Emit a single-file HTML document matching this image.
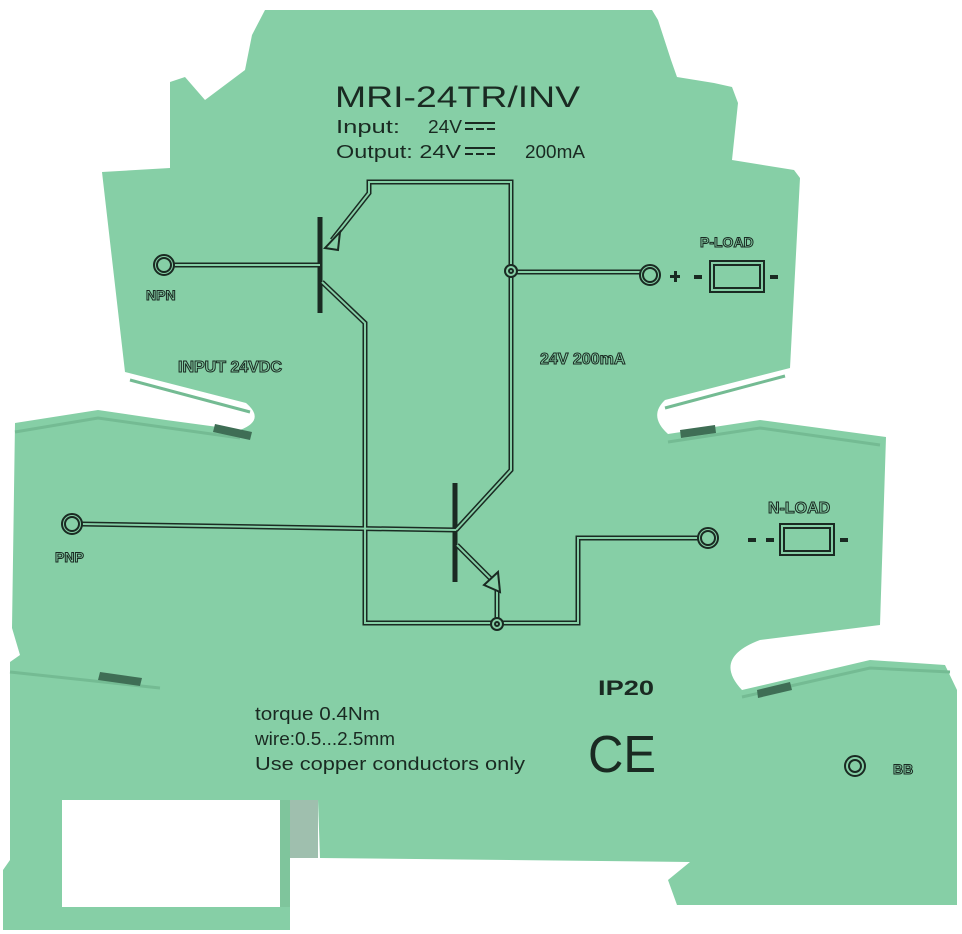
<!DOCTYPE html>
<html><head><meta charset="utf-8"><style>
html,body{margin:0;padding:0;background:#fff;}
svg{display:block}
.t{font-family:"Liberation Sans",sans-serif;fill:#1a2a22;}
.o{font-family:"Liberation Sans",sans-serif;font-weight:bold;fill:none;stroke:#1a2a22;stroke-width:1;}
</style></head><body>
<svg width="962" height="934" viewBox="0 0 962 934" xmlns="http://www.w3.org/2000/svg">
<rect width="962" height="934" fill="#fff"/>
<path d="M265,10 L652,10 L658,20 L671,60 L677,77 L714,83 L732,87 L738,103 L732,160 L794,170 L800,178 L790,368 L665,400 Q648,416 668,434 L760,420 L886,437 L880,625 L760,640 Q712,658 742,690 L870,660 L945,665 L957,690 L957,905 L677,905 L668,880 L690,862 L320,858 L318,800 L290,800 L290,930 L3,930 L3,870 L10,860 L10,662 L20,655 L12,628 L15,423 L98,410 L166,420 L240,430 Q266,420 246,403 L129,373 L125,372 L102,172 L170,168 L170,82 L185,77 L205,100 L245,70 L252,35 Z" fill="#86cfa6"/>
<rect x="62" y="800" width="218" height="107" fill="#fff"/>
<rect x="290" y="800" width="28" height="58" fill="#9fbfae"/>
<rect x="280" y="800" width="10" height="107" fill="#7fc59c"/>
<g fill="none" stroke="#74bb93" stroke-width="3">
<path d="M15,432 L98,418 L240,438"/>
<path d="M10,672 L160,688"/>
<path d="M742,697 L870,668 L950,672"/>
<path d="M668,442 L760,428 L880,445"/>
<path d="M130,380 L250,412"/>
<path d="M665,408 L785,376"/>
</g>
<path d="M215,424 L252,432 L250,440 L213,432 Z" fill="#3f6e55"/>
<path d="M100,672 L142,678 L140,686 L98,680 Z" fill="#3f6e55"/>
<path d="M680,430 L715,425 L716,433 L681,438 Z" fill="#3f6e55"/>
<path d="M757,690 L790,682 L792,690 L758,698 Z" fill="#3f6e55"/>
<g fill="none" stroke-linejoin="miter">
<g stroke="#1a2a22" stroke-width="5">
<path d="M332,240 L369,193 L369,182 L511,182 L511,470 L456,530"/>
<path d="M322,282 L365,323 L365,623 L578,623 L578,538 L700,538"/>
<path d="M457,545 L497,585 L497,623"/>
<path d="M174,265 L320,265"/>
<path d="M81,524 L456,530"/>
<path d="M511,272 L641,272"/>
<path d="M320,217 L320,313"/>
<path d="M455,483 L455,582"/>
</g>
<g stroke="#86cfa6" stroke-width="2">
<path d="M332,240 L369,193 L369,182 L511,182 L511,470 L456,530"/>
<path d="M322,282 L365,323 L365,623 L578,623 L578,538 L700,538"/>
<path d="M457,545 L497,585 L497,623"/>
<path d="M174,265 L320,265"/>
<path d="M81,524 L456,530"/>
<path d="M511,272 L641,272"/>
</g>
</g>
<path d="M325,248 L340,232 L338,250 Z" fill="#86cfa6" stroke="#1a2a22" stroke-width="2"/>
<path d="M484,585 L498,572 L500,592 Z" fill="#86cfa6" stroke="#1a2a22" stroke-width="2"/>
<g fill="#86cfa6" stroke="#1a2a22" stroke-width="2">
<circle cx="511" cy="271" r="6"/><circle cx="511" cy="271" r="2"/>
<circle cx="497" cy="624" r="6"/><circle cx="497" cy="624" r="2"/>
<circle cx="164" cy="265" r="10"/><circle cx="164" cy="265" r="7"/>
<circle cx="72" cy="524" r="10"/><circle cx="72" cy="524" r="7"/>
<circle cx="650" cy="275" r="10"/><circle cx="650" cy="275" r="7"/>
<circle cx="708" cy="538" r="10"/><circle cx="708" cy="538" r="7"/>
<circle cx="855" cy="766" r="10"/><circle cx="855" cy="766" r="6"/>
</g>
<g fill="none" stroke="#1a2a22" stroke-width="2">
<rect x="710" y="261" width="54" height="31"/><rect x="714" y="265" width="46" height="23"/>
<rect x="780" y="524" width="54" height="31"/><rect x="784" y="528" width="46" height="23"/>
</g>
<g fill="#1a2a22">
<rect x="694" y="275" width="8" height="4"/><rect x="770" y="275" width="8" height="4"/>
<rect x="670" y="275" width="10" height="3"/><rect x="674" y="271" width="3" height="11"/>
<rect x="748" y="538" width="8" height="4"/><rect x="766" y="538" width="8" height="4"/><rect x="840" y="538" width="8" height="4"/>
</g>
<text class="t" x="335" y="107" font-size="30" textLength="245" lengthAdjust="spacingAndGlyphs">MRI-24TR/INV</text>
<text class="t" x="336" y="133" font-size="18" textLength="64" lengthAdjust="spacingAndGlyphs">Input:</text>
<text class="t" x="428" y="133" font-size="18" textLength="34" lengthAdjust="spacingAndGlyphs">24V</text>
<text class="t" x="336" y="158" font-size="18" textLength="125" lengthAdjust="spacingAndGlyphs">Output: 24V</text>
<text class="t" x="525" y="158" font-size="18" textLength="60" lengthAdjust="spacingAndGlyphs">200mA</text>
<g fill="#1a2a22"><rect x="465" y="122" width="30" height="2"/><rect x="465" y="128" width="8" height="2"/><rect x="476" y="128" width="8" height="2"/><rect x="487" y="128" width="8" height="2"/>
<rect x="465" y="147" width="30" height="2"/><rect x="465" y="153" width="8" height="2"/><rect x="476" y="153" width="8" height="2"/><rect x="487" y="153" width="8" height="2"/></g>
<text class="o" x="146" y="300" font-size="14">NPN</text>
<text class="o" x="55" y="562" font-size="14">PNP</text>
<text class="o" x="178" y="372" font-size="16">INPUT 24VDC</text>
<text class="o" x="540" y="364" font-size="16">24V 200mA</text>
<text class="o" x="768" y="513" font-size="16">N-LOAD</text>
<text class="o" x="700" y="247" font-size="14" stroke="#b9dcc8">P-LOAD</text>
<text class="o" x="893" y="774" font-size="14">BB</text>
<text x="598" y="695" font-family="Liberation Sans,sans-serif" font-weight="bold" font-size="21" fill="#1a2a22" textLength="56" lengthAdjust="spacingAndGlyphs">IP20</text>
<text x="588" y="772" font-family="Liberation Sans,sans-serif" font-size="52" fill="#1a2a22" textLength="68" lengthAdjust="spacingAndGlyphs">CE</text>
<text class="t" x="255" y="720" font-size="18" textLength="125" lengthAdjust="spacingAndGlyphs">torque 0.4Nm</text>
<text class="t" x="255" y="745" font-size="18" textLength="140" lengthAdjust="spacingAndGlyphs">wire:0.5...2.5mm</text>
<text class="t" x="255" y="770" font-size="18" textLength="270" lengthAdjust="spacingAndGlyphs">Use copper conductors only</text>
</svg>
</body></html>
